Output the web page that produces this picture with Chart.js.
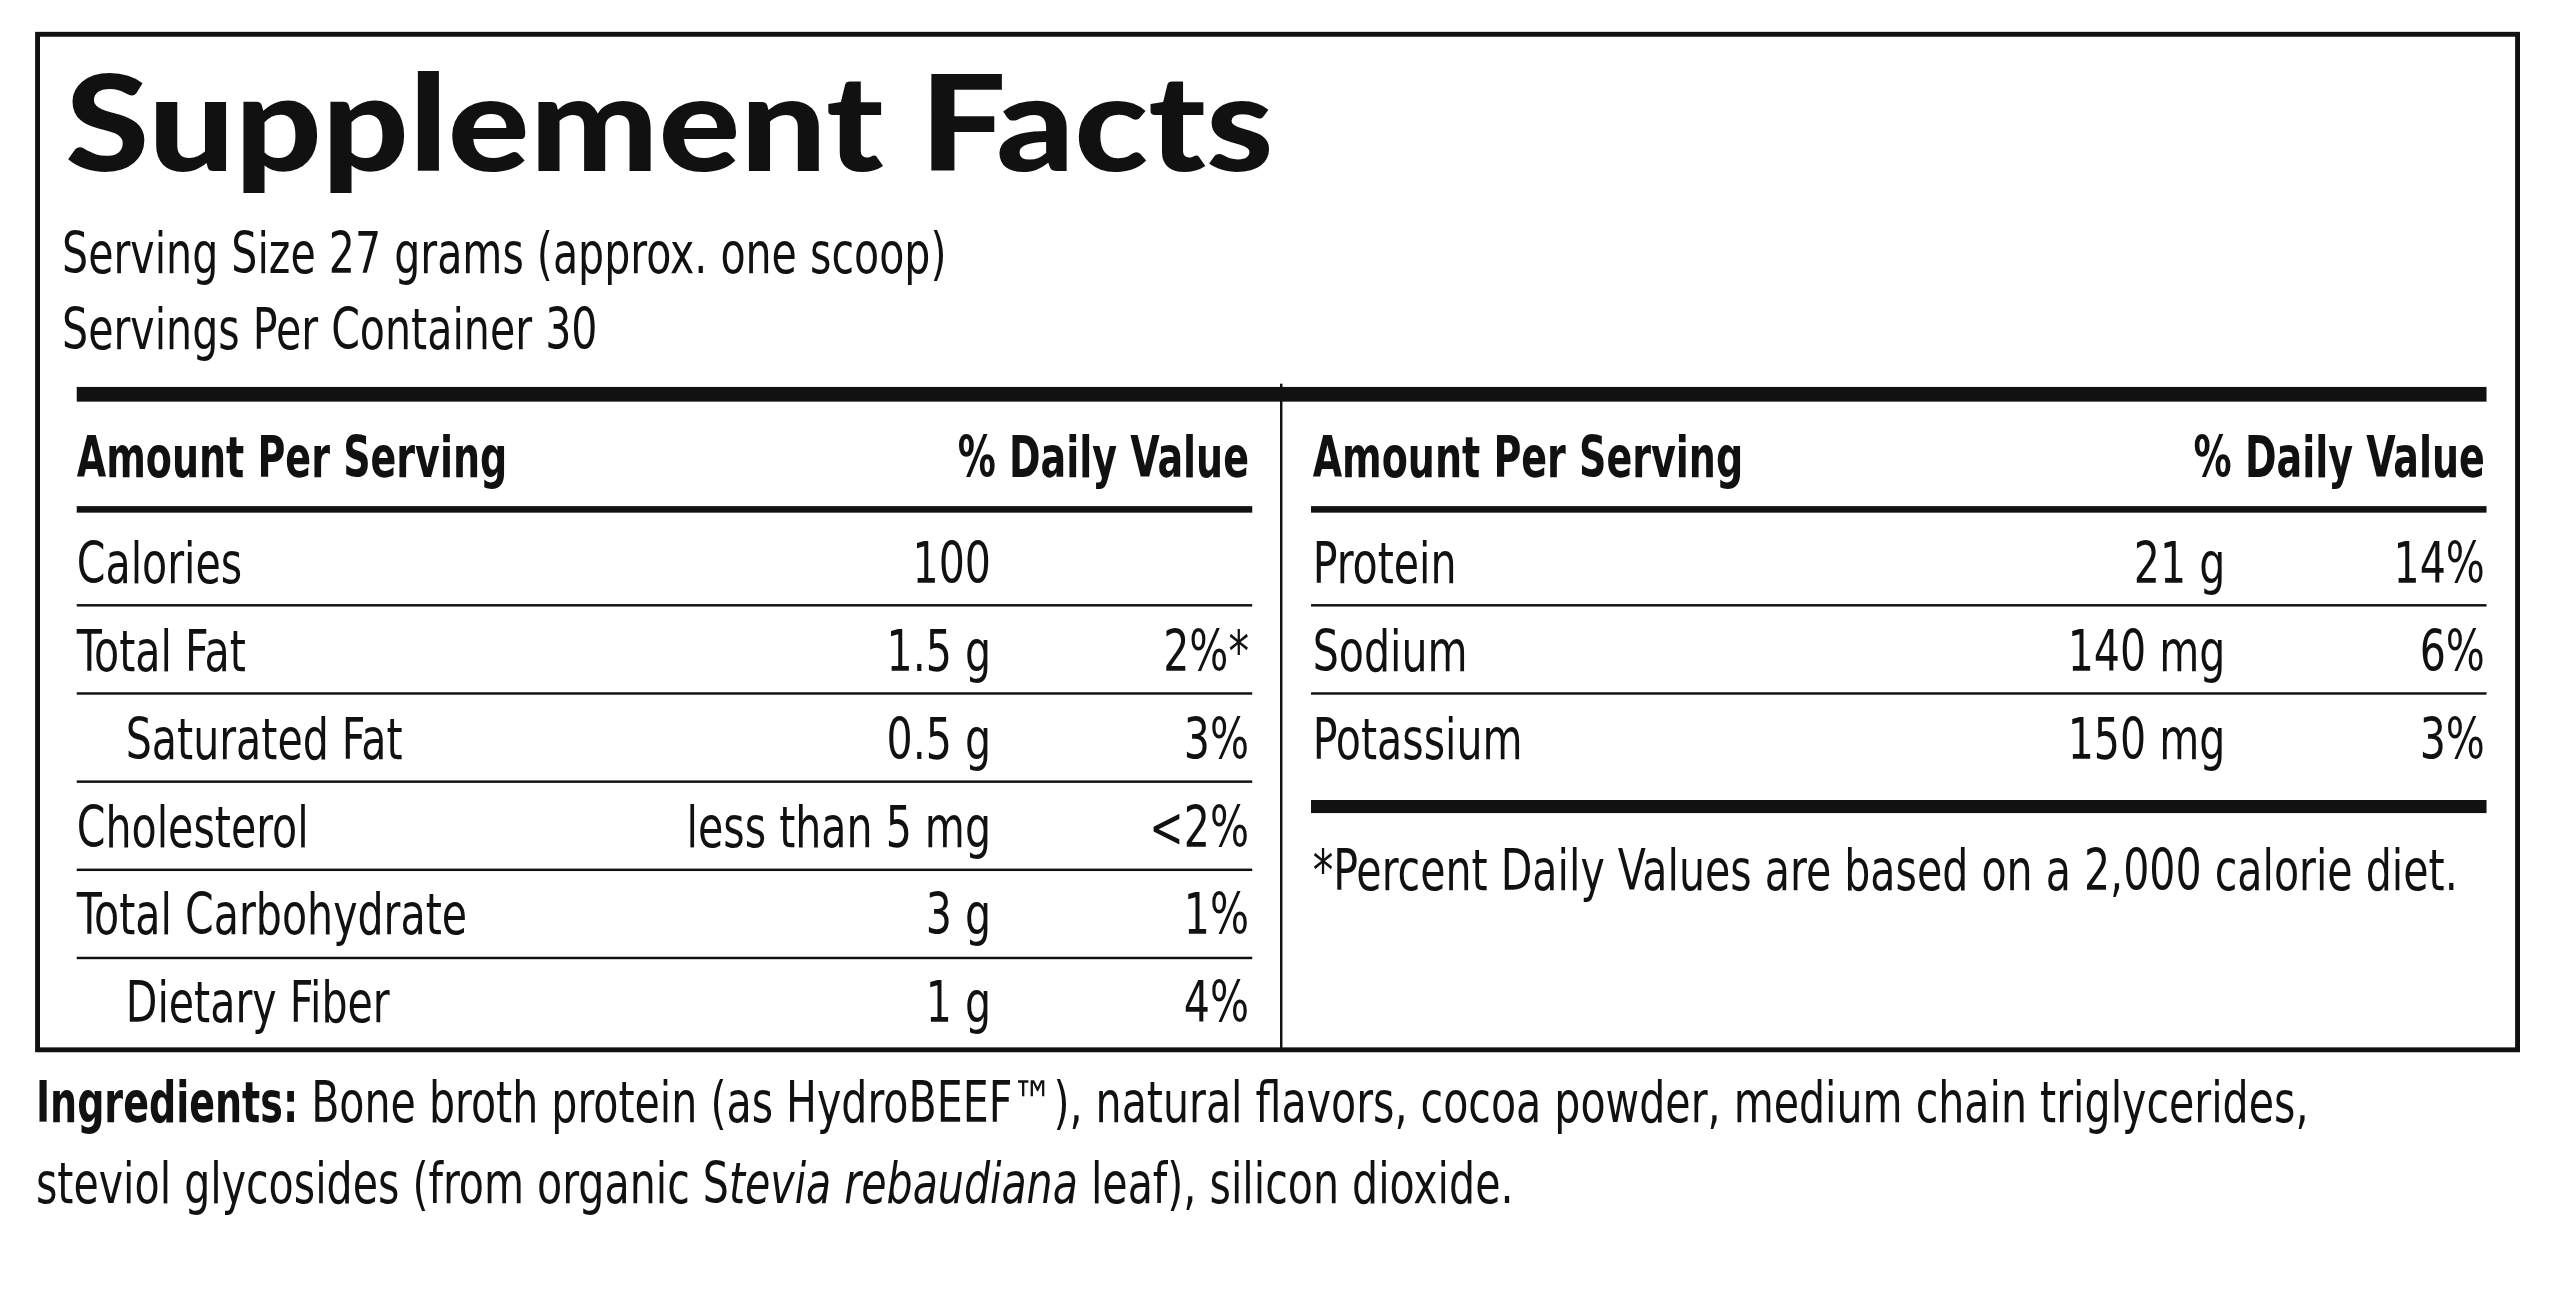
<!DOCTYPE html>
<html><head><meta charset="utf-8">
<script src="https://cdn.jsdelivr.net/npm/chart.js@4/dist/chart.umd.min.js"></script>
<style>html,body{margin:0;padding:0;background:#fff;overflow:hidden}canvas{display:block}</style>
</head><body><canvas id="c" width="2560" height="1297"></canvas>
<script>
const title = "Supplement Facts";
const servingLines = ["Serving Size 27 grams (approx. one scoop)", "Servings Per Container 30"];
const headers = ["Amount Per Serving", "% Daily Value"];
const leftNames = ["Calories", "Total Fat", "Saturated Fat", "Cholesterol", "Total Carbohydrate", "Dietary Fiber"];
const leftIndent = [false, false, true, false, false, true];
const leftAmounts = ["100", "1.5 g", "0.5 g", "less than 5 mg", "3 g", "1 g"];
const leftDV = ["", "2%*", "3%", "<2%", "1%", "4%"];
const rightNames = ["Protein", "Sodium", "Potassium"];
const rightAmounts = ["21 g", "140 mg", "150 mg"];
const rightDV = ["14%", "6%", "3%"];
const footnote = "*Percent Daily Values are based on a 2,000 calorie diet.";
const ingredients = [
  [["b","Ingredients:"],["n"," Bone broth protein (as HydroBEEF™), natural flavors, cocoa powder, medium chain triglycerides,"]],
  [["n","steviol glycosides (from organic S"],["i","tevia rebaudiana"],["n"," leaf), silicon dioxide."]]
];

const NARROW = "'Liberation Sans Narrow','DejaVu Sans Condensed','Roboto Condensed',sans-serif";
const labelPlugin = {
  id: 'label',
  afterDraw(chart) {
    const ctx = chart.ctx, xs = chart.scales.x, ys = chart.scales.y;
    const X = v => xs.getPixelForValue(v), Y = v => ys.getPixelForValue(v);
    const s = (X(1568) - X(0)) / 1568;
    ctx.save();
    ctx.fillStyle = '#111'; ctx.strokeStyle = '#111';
    const rect = (x1, y1, x2, y2) => ctx.fillRect(X(x1), Y(y1), X(x2) - X(x1), Y(y2) - Y(y1));
    const text = (t, x, y, size, weight, align, style) => {
      const k = (weight || 400) >= 700 ? 0.74 : 0.8;
      ctx.font = (style || 'normal') + ' ' + (weight || 400) + ' ' + (size * s) + 'px ' + NARROW;
      ctx.textAlign = 'left'; ctx.textBaseline = 'alphabetic';
      const w = ctx.measureText(t).width * k;
      const x0 = align === 'right' ? X(x) - w : X(x);
      ctx.save();
      ctx.translate(x0, Y(y)); ctx.scale(k, 1);
      ctx.fillText(t, 0, 0);
      ctx.restore();
      return w / s;
    };
    ctx.lineWidth = 3 * s;
    ctx.strokeRect(X(23), Y(21), X(1542) - X(23), Y(643) - Y(21));
    ctx.font = '900 ' + (82 * s) + 'px Lato, "Liberation Sans", sans-serif';
    const tw = ctx.measureText(title).width;
    ctx.save();
    ctx.translate(X(40), Y(105));
    ctx.scale((740 * s) / tw, 1);
    ctx.textAlign = 'left'; ctx.fillText(title, 0, 0);
    ctx.restore();
    text(servingLines[0], 38, 167, 35);
    text(servingLines[1], 38, 214, 35);
    rect(47, 237, 1523, 246);
    rect(784, 235, 785.5, 643);
    text(headers[0], 47, 292, 35, 700);
    text(headers[1], 765, 292, 35, 700, 'right');
    text(headers[0], 804, 292, 35, 700);
    text(headers[1], 1522, 292, 35, 700, 'right');
    rect(47, 310, 767, 314);
    rect(803, 310, 1523, 314);
    const base = [357, 411, 465, 519, 572, 626];
    const sep = [370, 424, 478, 532, 586];
    leftNames.forEach((n, i) => {
      text(n, leftIndent[i] ? 77 : 47, base[i], 35);
      text(leftAmounts[i], 607, base[i], 35, 400, 'right');
      if (leftDV[i]) text(leftDV[i], 765, base[i], 35, 400, 'right');
    });
    sep.forEach(y => rect(47, y, 767, y + 1.5));
    rightNames.forEach((n, i) => {
      text(n, 804, base[i], 35);
      text(rightAmounts[i], 1363, base[i], 35, 400, 'right');
      text(rightDV[i], 1522, base[i], 35, 400, 'right');
    });
    [370, 424].forEach(y => rect(803, y, 1523, y + 1.5));
    rect(803, 490, 1523, 498);
    text(footnote, 804, 545, 35);
    const ib = [687, 737];
    ingredients.forEach((line, k) => {
      let x = 22;
      line.forEach(([st, t]) => {
        x += text(t, x, ib[k], 35, st === 'b' ? 700 : 400, 'left', st === 'i' ? 'italic' : 'normal');
      });
    });
    ctx.restore();
  }
};

new Chart(document.getElementById('c'), {
  type: 'scatter',
  data: { datasets: [{ data: [] }] },
  options: {
    responsive: false, animation: false, devicePixelRatio: 1,
    layout: { padding: 0 },
    plugins: { legend: { display: false }, tooltip: { enabled: false } },
    scales: {
      x: { type: 'linear', min: 0, max: 1568, display: false },
      y: { type: 'linear', min: 0, max: 794.4, reverse: true, display: false }
    }
  },
  plugins: [labelPlugin]
});
</script></body></html>
